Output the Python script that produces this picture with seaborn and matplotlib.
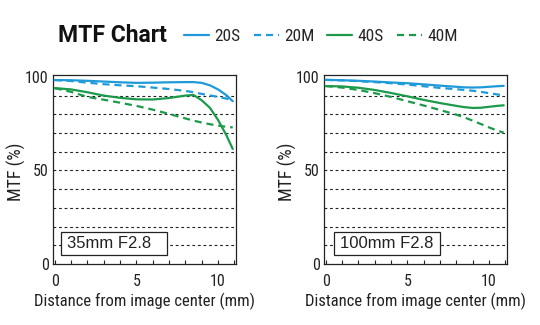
import matplotlib
matplotlib.use("Agg")
import numpy as np
import pandas as pd
import matplotlib.pyplot as plt
import seaborn as sns
from matplotlib import font_manager as fm
from matplotlib.patches import Rectangle
from matplotlib.lines import Line2D
from matplotlib.ticker import FixedLocator, MultipleLocator

# ---------------- data ----------------
distance = [0, 1, 2, 3, 4, 5, 6, 7, 8, 8.5, 9, 9.5, 10, 10.5, 10.9]

mtf35_20S = [98.3, 98.2, 97.9, 97.5, 97.1, 96.8, 96.9, 97.1, 97.2, 97.2, 96.8, 95.5, 93.3, 90.3, 87.0]
mtf35_20M = [98.3, 97.8, 96.9, 96.1, 95.5, 95.0, 94.3, 93.5, 92.5, 91.8, 90.9, 90.1, 89.3, 88.4, 87.5]
mtf35_40S = [94.0, 93.3, 91.8, 90.0, 88.8, 88.0, 87.9, 88.7, 90.0, 90.3, 87.5, 83.5, 77.0, 69.0, 61.5]
mtf35_40M = [94.0, 92.0, 89.3, 87.8, 86.2, 84.5, 82.5, 80.2, 77.8, 76.6, 75.6, 74.7, 74.0, 73.3, 73.0]

mtf100_20S = [98.4, 98.2, 97.9, 97.5, 97.0, 96.6, 96.0, 95.3, 94.7, 94.4, 94.3, 94.4, 94.7, 95.0, 95.2]
mtf100_20M = [98.4, 98.1, 97.7, 97.2, 96.6, 95.9, 95.0, 94.1, 93.4, 93.0, 92.6, 92.0, 91.3, 90.6, 90.1]
mtf100_40S = [95.1, 94.9, 94.2, 93.0, 91.4, 89.6, 87.7, 86.0, 84.5, 83.8, 83.4, 83.5, 84.0, 84.5, 84.8]
mtf100_40M = [95.1, 94.3, 93.0, 91.3, 89.3, 87.0, 84.7, 82.3, 79.8, 78.3, 76.6, 74.8, 73.0, 71.3, 70.2]

series_names = ["20S", "20M", "40S", "40M"]
lens_labels = ["35mm F2.8", "100mm F2.8"]
panel_values = [
    [mtf35_20S, mtf35_20M, mtf35_40S, mtf35_40M],
    [mtf100_20S, mtf100_20M, mtf100_40S, mtf100_40M],
]
title_text = "MTF Chart"
x_label = "Distance from image center (mm)"
y_label = "MTF (%)"

# ---------------- style ----------------
sns.set_theme(style="white")
names = {f.name for f in fm.fontManager.ttflist}
narrow = next((n for n in ["Liberation Sans Narrow", "DejaVu Sans Condensed",
                           "Roboto Condensed"] if n in names), "Roboto")
plt.rcParams["font.family"] = [narrow, "DejaVu Sans"]

blue = "#1f9ad8"
green = "#1b9a4b"
dash = (0, (3.2, 2.2))
style = {"20S": (blue, "-"), "20M": (blue, dash),
         "40S": (green, "-"), "40M": (green, dash)}
ink = "#222222"

fig = plt.figure(figsize=(5.4, 3.25), dpi=100)
fig.patch.set_facecolor("white")
axes = [fig.add_axes([53 / 540, 1 - 264 / 325, 183 / 540, 189 / 325]),
        fig.add_axes([324 / 540, 1 - 264 / 325, 183 / 540, 189 / 325])]

for ax, vals, lens in zip(axes, panel_values, lens_labels):
    df = pd.DataFrame({
        "distance": np.tile(distance, len(series_names)),
        "mtf": np.concatenate(vals),
        "series": np.repeat(series_names, len(distance)),
    })
    for s in series_names:
        c, ls = style[s]
        sns.lineplot(data=df[df["series"] == s], x="distance", y="mtf", ax=ax,
                     color=c, linestyle=ls, lw=1.6, zorder=4, legend=False)
    ax.set_xlim(-0.1, 11.1)
    ax.set_ylim(0, 101)
    ax.yaxis.set_major_locator(FixedLocator([0, 50, 100]))
    ax.yaxis.set_minor_locator(FixedLocator([10, 20, 30, 40, 50, 60, 70, 80, 90]))
    ax.yaxis.remove_overlapping_locs = False
    ax.xaxis.set_major_locator(FixedLocator([0, 5, 10]))
    ax.xaxis.set_minor_locator(MultipleLocator(1))
    ax.grid(False)
    ax.grid(True, which="minor", axis="y", color=ink, lw=0.8,
            linestyle=(0, (2.5, 2.5)), zorder=1)
    ax.tick_params(axis="y", which="both", length=0, pad=3, labelsize=11.5, colors=ink)
    ax.tick_params(axis="x", which="both", direction="in", length=3, width=0.8,
                   bottom=True, top=False, color=ink)
    ax.tick_params(axis="x", which="major", pad=7, labelsize=11.5, labelcolor=ink)
    for sp in ax.spines.values():
        sp.set_color(ink)
        sp.set_linewidth(0.9)
    ax.set_xlabel(x_label, fontsize=12, color=ink)
    ax.set_ylabel(y_label, fontsize=13, color=ink)
    ax.xaxis.set_label_coords(0.5, -0.15)
    ax.yaxis.set_label_coords(-0.15, 0.49)
    # lens annotation box
    ax.add_patch(Rectangle((0.37 if lens.startswith("35") else 0.5, 4.8),
                           6.5, 12.2, facecolor="white", edgecolor=ink,
                           lw=0.9, zorder=3))
    ax.text(0.75 if lens.startswith("35") else 0.85, 10.9, lens, fontsize=12,
            family=["Liberation Sans", "DejaVu Sans"], color=ink,
            va="center", ha="left", zorder=5)

fig.text(58 / 540, 1 - 36 / 325, title_text, fontsize=16.5, fontweight="bold",
         family=["Roboto", "DejaVu Sans"], color="#111111", va="center", ha="left")

handles = [Line2D([], [], color=style[s][0], linestyle=style[s][1], lw=1.6)
           for s in series_names]
fig.legend(handles, series_names, loc="center left",
           bbox_to_anchor=(184 / 540, 1 - 36 / 325), ncol=4, frameon=False,
           fontsize=12.5, handlelength=1.45, handletextpad=0.3,
           columnspacing=0.75, borderaxespad=0, borderpad=0)

fig.savefig("out.png", dpi=100, facecolor="white")
